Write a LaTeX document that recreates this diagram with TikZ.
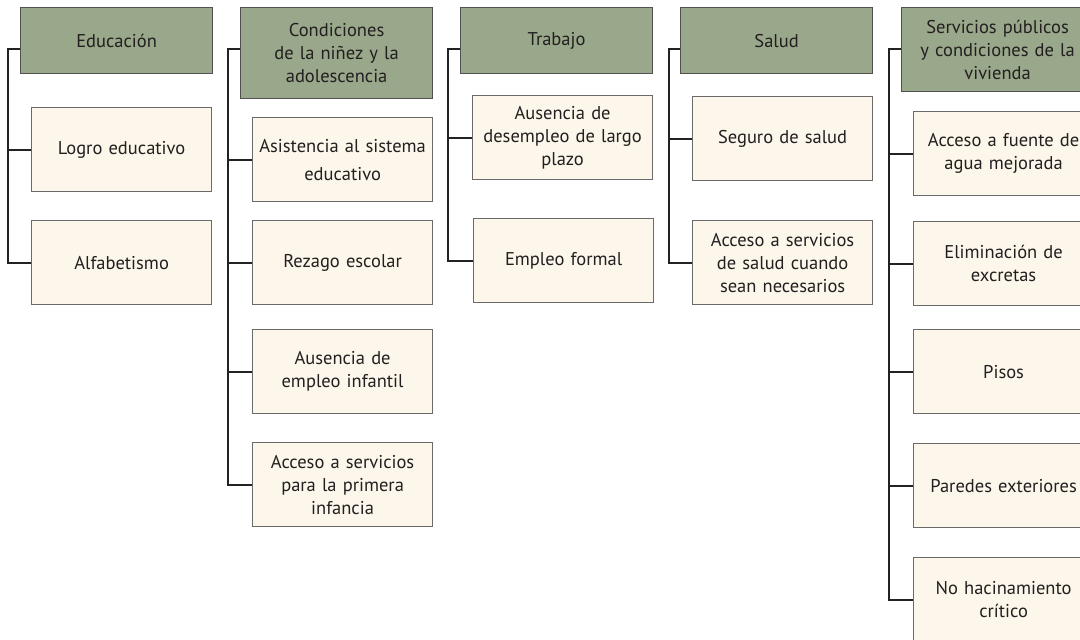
\documentclass[tikz,border=0pt]{standalone}
\usepackage{fontspec}
\setmainfont{PT Sans}
\usetikzlibrary{calc}

\definecolor{hdrgreen}{HTML}{99A78A}
\definecolor{boxcream}{HTML}{FDF6EA}
\definecolor{hdrline}{HTML}{505050}
\definecolor{boxline}{HTML}{6A6A6A}
\definecolor{railline}{HTML}{222222}
\definecolor{textdark}{HTML}{231F20}

\begin{document}
\begin{tikzpicture}[x=1pt,y=-1pt,
    header/.style={draw=hdrline, fill=hdrgreen, line width=1.2pt, anchor=north west,
      minimum width=192pt, text width=188pt, align=center, inner sep=0pt,
      text=textdark, font=\fontsize{18.5}{23}\selectfont},
    item/.style={draw=boxline, fill=boxcream, line width=1.2pt, anchor=north west,
      minimum width=180pt, minimum height=84pt, text width=176pt, align=center,
      inner sep=0pt, text=textdark, font=\fontsize{18.5}{23}\selectfont},
    link/.style={draw=railline, line width=1.8pt}]
  \useasboundingbox (0,0) rectangle (1080,640);
  \clip (0,0) rectangle (1080,640);

  % Educacion
  \node[header, minimum height=66pt] (edu) at (20,7) {Educación};
  \node[item] (logro) at (31,107) {Logro educativo};
  \node[item] (alfa) at (31,220) {Alfabetismo};
  \draw[link] ($(edu.north west)+(0,42)$) -- ++(-12,0) |- (alfa.west);
  \draw[link] (logro.west) -- ++(-23,0);

  % Ninez y adolescencia
  \node[header, minimum height=91pt] (ninez) at (240,7) {Condiciones\\de la niñez y la\\adolescencia};
  \node[item] (asist) at (252,117) {Asistencia al sistema\\[5pt]educativo};
  \node[item] (rezago) at (252,220) {Rezago escolar};
  \node[item] (infantil) at (252,329) {Ausencia de\\empleo infantil};
  \node[item] (infancia) at (252,442) {Acceso a servicios\\para la primera\\infancia};
  \draw[link] ($(ninez.north west)+(0,42)$) -- ++(-12,0) |- (infancia.west);
  \foreach \n in {asist,rezago,infantil}
    \draw[link] (\n.west) -- ++(-24,0);

  % Trabajo
  \node[header, minimum height=66pt] (trab) at (460,7) {Trabajo};
  \node[item] (desemp) at (472,95) {Ausencia de\\desempleo de largo\\plazo};
  \node[item] (formal) at (473,218) {Empleo formal};
  \draw[link] ($(trab.north west)+(0,42)$) -- ++(-12,0) |- (formal.west);
  \draw[link] (desemp.west) -- ++(-24,0);

  % Salud
  \node[header, minimum height=66pt] (salud) at (680,7) {Salud};
  \node[item] (seguro) at (692,96) {Seguro de salud};
  \node[item] (accsalud) at (692,220) {Acceso a servicios\\de salud cuando\\sean necesarios};
  \draw[link] ($(salud.north west)+(0,42)$) -- ++(-11,0) |- (accsalud.west);
  \draw[link] (seguro.west) -- ++(-23,0);

  % Vivienda
  \node[header, minimum height=84pt] (viv) at (901,7) {Servicios públicos\\y condiciones de la\\vivienda};
  \node[item] (agua) at (913,111) {Acceso a fuente de\\agua mejorada};
  \node[item] (excretas) at (913,221) {Eliminación de\\excretas};
  \node[item] (pisos) at (913,329) {Pisos};
  \node[item] (paredes) at (913,443) {Paredes exteriores};
  \node[item] (hacin) at (913,557) {No hacinamiento\\crítico};
  \draw[link] ($(viv.north west)+(0,42)$) -- ++(-12,0) |- (hacin.west);
  \foreach \n in {agua,excretas,pisos,paredes}
    \draw[link] (\n.west) -- ++(-24,0);
\end{tikzpicture}
\end{document}
